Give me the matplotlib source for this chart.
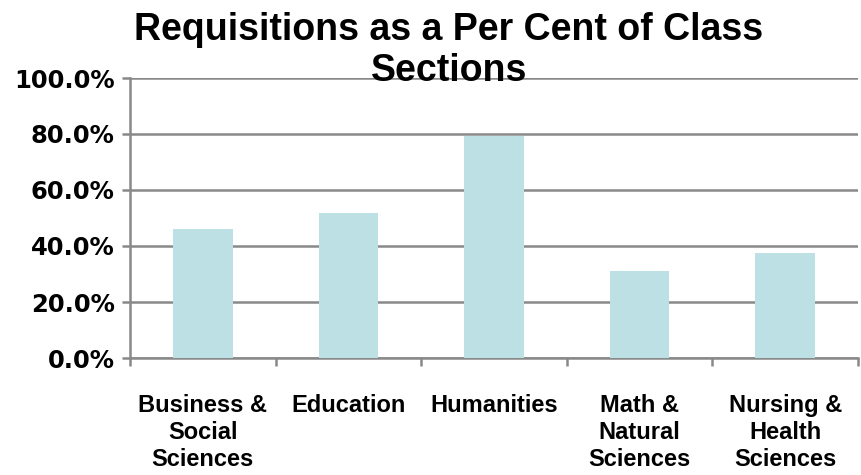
import numpy as np
import matplotlib.pyplot as plt
from matplotlib.ticker import PercentFormatter

categories = ['Business &\nSocial\nSciences', 'Education', 'Humanities',
              'Math &\nNatural\nSciences', 'Nursing &\nHealth\nSciences']
values = [46.2, 51.8, 79.3, 31.1, 37.5]
yticks = [0, 20, 40, 60, 80, 100]

plt.rcParams['font.family'] = ['Liberation Sans', 'DejaVu Sans']
plt.rcParams['font.weight'] = 'bold'

fig = plt.figure(figsize=(8.62, 4.75), dpi=100)
ax = fig.add_axes([130 / 862, 1 - 358 / 475, 728 / 862, 280 / 475])

grid_c = '#898989'
x = np.arange(len(categories))
ax.bar(x, values, width=0.41, color='#bce0e3', zorder=3)

ax.set_xlim(-0.5, len(categories) - 0.5)
ax.set_ylim(0, 100)
ax.set_yticks(yticks)
ax.yaxis.set_major_formatter(PercentFormatter(decimals=1))
ax.grid(axis='y', color=grid_c, linewidth=1.8, zorder=1)
ax.set_axisbelow(True)

ax.set_xticks(x)
ax.set_xticklabels(categories, fontsize=17, fontweight='bold', linespacing=1.23)
ax.tick_params(axis='x', length=0, pad=26)
ax.set_xticks(np.arange(len(categories) + 1) - 0.5, minor=True)
ax.tick_params(axis='x', which='minor', length=6, width=1.8, color=grid_c)
ax.tick_params(axis='y', length=6, width=1.8, color=grid_c, pad=5)
for lbl in ax.get_yticklabels():
    lbl.set_fontfamily('DejaVu Sans')
    lbl.set_fontsize(17.5)
    lbl.set_fontweight('bold')

for side in ['top', 'right']:
    ax.spines[side].set_visible(False)
for side in ['left', 'bottom']:
    ax.spines[side].set_color(grid_c)
    ax.spines[side].set_linewidth(1.8)

fig.text(449 / 862, 1 - 30 / 475, 'Requisitions as a Per Cent of Class',
         ha='center', va='center', fontsize=27, fontweight='bold')
fig.text(449 / 862, 1 - 71 / 475, 'Sections',
         ha='center', va='center', fontsize=27, fontweight='bold', zorder=5)

fig.savefig('out.png', dpi=100)
